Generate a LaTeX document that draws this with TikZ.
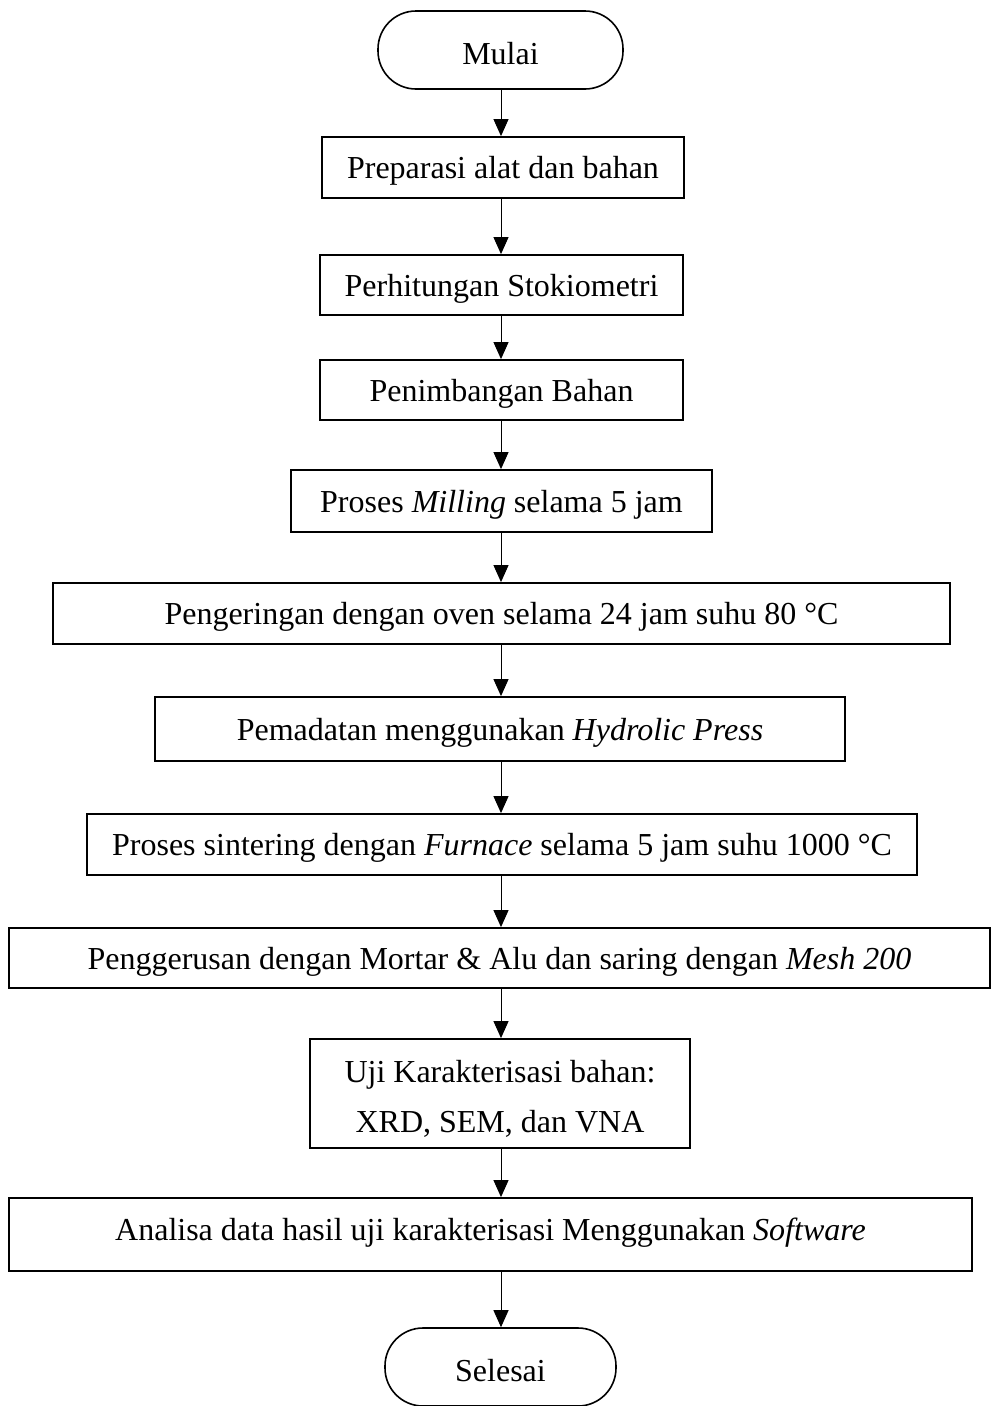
\documentclass[tikz,border=0pt]{standalone}
\usepackage{fontspec}
\setmainfont{Liberation Serif}
\usetikzlibrary{arrows.meta}
\begin{document}
\begin{tikzpicture}[x=1pt,y=-1pt,
  every node/.style={font=\fontsize{32}{50}\selectfont, inner sep=0pt, align=center},
  stepbox/.style={draw, line width=1.8pt, rectangle},
  linebox/.style={stepbox, text height=24pt, text depth=2pt},
  term/.style={draw, line width=1.6pt, rounded corners=38pt, text height=28pt, text depth=0pt},
  arr/.style={line width=1pt, -{Triangle[length=17pt,width=15pt]}}]
  \useasboundingbox (0,0) rectangle (992,1406);
  \coordinate (axis) at (501,0);

  \node[term, minimum width=245pt, minimum height=78pt] (start) at (500.5,50) {Mulai};
  \node[linebox, minimum width=362pt, minimum height=61pt] (s1) at (503,167.5) {Preparasi alat dan bahan};
  \node[linebox, minimum width=363pt, minimum height=60pt] (s2) at (501.5,285) {Perhitungan Stokiometri};
  \node[linebox, minimum width=363pt, minimum height=60pt] (s3) at (501.5,390) {Penimbangan Bahan};
  \node[linebox, minimum width=421pt, minimum height=62pt] (s4) at (501.5,501) {Proses \textit{Milling} selama 5 jam};
  \node[linebox, minimum width=897pt, minimum height=61pt] (s5) at (501.5,613.5) {Pengeringan dengan oven selama 24 jam suhu 80 °C};
  \node[linebox, minimum width=690pt, minimum height=64pt] (s6) at (500,729) {Pemadatan menggunakan \textit{Hydrolic Press}};
  \node[linebox, minimum width=830pt, minimum height=61pt] (s7) at (502,844.5) {Proses sintering dengan \textit{Furnace} selama 5 jam suhu 1000 °C};
  \node[linebox, minimum width=981pt, minimum height=60pt] (s8) at (499.5,958) {Penggerusan dengan Mortar \& Alu dan saring dengan \textit{Mesh 200}};
  \node[stepbox, minimum width=380pt, minimum height=109pt] (s9) at (500,1093.5) {\rule{0pt}{33pt}Uji Karakterisasi bahan:\\XRD, SEM, dan VNA};
  \node[linebox, text height=18pt, text depth=7pt, minimum width=963pt, minimum height=73pt] (s10) at (490.5,1234.5) {Analisa data hasil uji karakterisasi Menggunakan \textit{Software}};
  \node[term, minimum width=231pt, minimum height=78pt] (end) at (500.5,1367) {Selesai};

  \draw[arr] (start.south -| axis) -- (s1.north -| axis);
  \draw[arr] (s1.south -| axis) -- (s2.north -| axis);
  \draw[arr] (s2.south -| axis) -- (s3.north -| axis);
  \draw[arr] (s3.south -| axis) -- (s4.north -| axis);
  \draw[arr] (s4.south -| axis) -- (s5.north -| axis);
  \draw[arr] (s5.south -| axis) -- (s6.north -| axis);
  \draw[arr] (s6.south -| axis) -- (s7.north -| axis);
  \draw[arr] (s7.south -| axis) -- (s8.north -| axis);
  \draw[arr] (s8.south -| axis) -- (s9.north -| axis);
  \draw[arr] (s9.south -| axis) -- (s10.north -| axis);
  \draw[arr] (s10.south -| axis) -- (end.north -| axis);
\end{tikzpicture}
\end{document}
